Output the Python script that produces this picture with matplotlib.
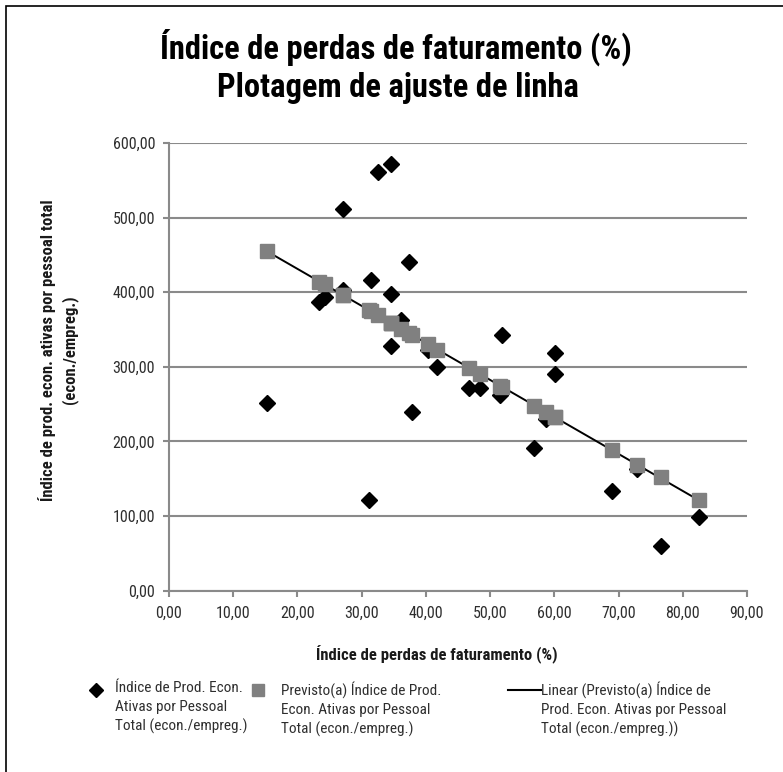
import matplotlib
matplotlib.use("Agg")
import matplotlib.pyplot as plt
import numpy as np
from matplotlib.lines import Line2D
from matplotlib.patches import Rectangle
from matplotlib.transforms import Bbox, TransformedBbox

plt.rcParams['font.family'] = ['Roboto Condensed', 'Liberation Sans Narrow', 'DejaVu Sans']
plt.rcParams['font.stretch'] = 'condensed'

# ---- data ----
perdas = [15.3, 23.4, 24.3, 27.1, 27.1, 31.1, 31.4, 32.5, 34.5, 34.6, 34.6,
          36.2, 37.4, 37.8, 40.4, 41.8, 46.7, 48.4, 51.5, 51.8, 56.8, 58.7,
          60.1, 60.1, 69.0, 72.8, 76.6, 82.6]
indice_real = [251, 387, 393, 512, 403, 122, 416, 561, 572, 397, 328,
               363, 440, 240, 323, 300, 271, 272, 262, 342, 191, 230,
               318, 290, 134, 163, 60, 98]
indice_previsto = [455, 414, 411, 396, 396, 376, 375, 369, 359, 359, 359,
                   351, 345, 343, 330, 323, 298, 290, 274, 273, 248, 239,
                   232, 232, 189, 168, 152, 121]
x_ticks = [0, 10, 20, 30, 40, 50, 60, 70, 80, 90]
y_ticks = [0, 100, 200, 300, 400, 500, 600]

title1 = "Índice de perdas de faturamento (%)"
title2 = "Plotagem de ajuste de linha"
xlabel = "Índice de perdas de faturamento (%)"
ylabel = "Índice de prod. econ. ativas por pessoal total\n(econ./empreg.)"
leg1 = "Índice de Prod. Econ.\nAtivas por Pessoal\nTotal (econ./empreg.)"
leg2 = "Previsto(a) Índice de Prod.\nEcon. Ativas por Pessoal\nTotal (econ./empreg.)"
leg3 = "Linear (Previsto(a) Índice de\nProd. Econ. Ativas por Pessoal\nTotal (econ./empreg.))"

W, H = 783, 772
fig = plt.figure(figsize=(W / 100, H / 100), dpi=100)

def fx(px):
    return px / W

def fy(py):
    return 1 - py / H

GRAY = "#8a8a8a"
SQ = "#808080"
TXT = "#2e2e2e"

ax = fig.add_axes([fx(169), fy(590.5), fx(747) - fx(169), fy(143) - fy(590.5)])
ax.set_xlim(0, 90)
ax.set_ylim(0, 600)
ax.set_xticks(x_ticks)
ax.set_yticks(y_ticks)
ax.set_xticklabels([f"{v:.2f}".replace(".", ",") for v in x_ticks])
ax.set_yticklabels([f"{v:.2f}".replace(".", ",") for v in y_ticks])
for s in ["top", "right"]:
    ax.spines[s].set_visible(False)
for s in ["left", "bottom"]:
    ax.spines[s].set_color(GRAY)
    ax.spines[s].set_linewidth(1.5)
ax.tick_params(axis="both", direction="out", length=4, width=1.5, color=GRAY,
               labelsize=11.5, labelcolor=TXT)
ax.tick_params(axis="x", pad=7)
ax.tick_params(axis="y", pad=6)
ax.yaxis.grid(True, color=GRAY, linewidth=1.5)
ax.set_axisbelow(True)

ax.plot(perdas, indice_real, linestyle="none", marker="D", markersize=8.5,
        color="black", zorder=3)
ax.plot(perdas, indice_previsto, linestyle="none", marker="s", markersize=10,
        color=SQ, zorder=4)
coef = np.polyfit(perdas, indice_previsto, 1)
xl = np.array([min(perdas), max(perdas)])
ax.plot(xl, np.polyval(coef, xl), color="black", linewidth=1.4, zorder=3.5)

fig.canvas.draw()
lbls = ax.get_xticklabels()
clip = TransformedBbox(Bbox([[0, 0], [fx(766), 1]]), fig.transFigure)
lbls[-1].set_clip_box(clip)
lbls[-1].set_clip_on(True)

fig.text(fx(396), fy(47), title1, ha="center", va="center", fontsize=23.5,
         fontweight="bold", color="black")
fig.text(fx(398), fy(88), title2, ha="center", va="center", fontsize=23.5,
         fontweight="bold", color="black")

fig.text(fx(437), fy(655), xlabel, ha="center", va="center", fontsize=12,
         fontweight="bold", color="#1a1a1a")
fig.text(fx(58), fy(350), ylabel, ha="center", va="center", fontsize=12,
         fontweight="bold", color="#1a1a1a", rotation=90, linespacing=1.45,
         multialignment="center")

ly = 690
fig.add_artist(Line2D([fx(96)], [fy(ly)], marker="D", markersize=7,
                      color="black", linestyle="none", transform=fig.transFigure))
fig.text(fx(115), fy(ly - 9), leg1, ha="left", va="top", fontsize=11,
         color=TXT, linespacing=1.42)
fig.add_artist(Line2D([fx(258)], [fy(ly)], marker="s", markersize=8,
                      color=SQ, linestyle="none", transform=fig.transFigure))
fig.text(fx(281), fy(ly - 9), leg2, ha="left", va="top", fontsize=11,
         color=TXT, linespacing=1.42)
fig.add_artist(Line2D([fx(508), fx(541)], [fy(ly), fy(ly)], color="black",
                      linewidth=1.5, transform=fig.transFigure))
fig.text(fx(541), fy(ly - 9), leg3, ha="left", va="top", fontsize=11,
         color=TXT, linespacing=1.42)

fig.add_artist(Rectangle((fx(5.5), fy(790)), fx(800), fy(6) - fy(790),
                         transform=fig.transFigure, fill=False,
                         edgecolor="black", linewidth=1.2))

fig.savefig("out.png", dpi=100)
